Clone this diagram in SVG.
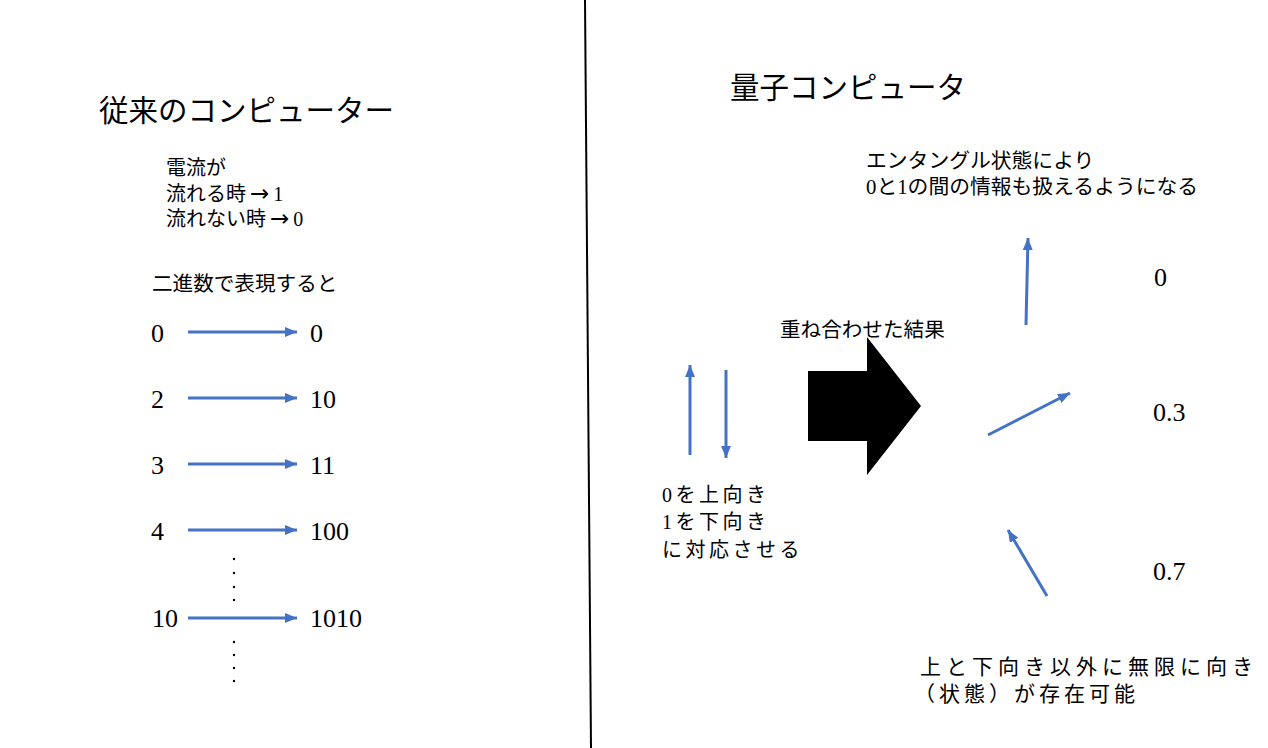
<svg xmlns="http://www.w3.org/2000/svg" width="1268" height="748" viewBox="0 0 1268 748">
<defs>
<style>
text{font-family:"Liberation Serif","Noto Sans CJK JP",serif;fill:#000}
.t28{font-size:29.5px}
.t20{font-size:20px}
.t21{font-size:20.8px}
.t24{font-size:26px}
.ar{font-family:"DejaVu Sans",sans-serif;font-size:23px}
.sp{font-size:20px;letter-spacing:3.5px}
.sp2{font-size:21px;letter-spacing:4px}
.arr{stroke:#4472C4;stroke-width:3;fill:none;marker-end:url(#ah)}
.dot{fill:#000}
</style>
<marker id="ah" markerUnits="userSpaceOnUse" viewBox="0 0 12 10" markerWidth="12" markerHeight="10" refX="12" refY="5" orient="auto">
<path d="M0,0 L12,5 L0,10 z" fill="#4472C4"/>
</marker>
</defs>
<rect width="1268" height="748" fill="#fff"/>
<line id="divider" x1="585" y1="0" x2="591" y2="748" stroke="#000" stroke-width="2"/>

<g id="left-title"><text class="t28" x="99" y="121">従来のコンピューター</text></g>
<g id="current-note">
<text class="t20" x="166" y="175">電流が</text>
<text class="t20" x="166" y="201">流れる時<tspan class="ar" dx="4">→</tspan><tspan dx="4">1</tspan></text>
<text class="t20" x="166" y="226">流れない時<tspan class="ar" dx="4">→</tspan><tspan dx="4">0</tspan></text>
</g>
<g id="binary-label"><text class="t20" x="152" y="291" style="font-size:20.6px">二進数で表現すると</text></g>
<g id="row0"><text class="t24" x="151" y="342">0</text><text class="t24" x="310" y="342">0</text></g>
<g id="row2"><text class="t24" x="151" y="408">2</text><text class="t24" x="310" y="408">10</text></g>
<g id="row3"><text class="t24" x="151" y="474">3</text><text class="t24" x="310" y="474">11</text></g>
<g id="row4"><text class="t24" x="151" y="540">4</text><text class="t24" x="310" y="540">100</text></g>
<g id="row10"><text class="t24" x="152" y="627">10</text><text class="t24" x="310" y="627">1010</text></g>
<g id="dots">
<circle class="dot" cx="234" cy="559" r="1.2"/><circle class="dot" cx="234" cy="573" r="1.2"/><circle class="dot" cx="234" cy="587" r="1.2"/><circle class="dot" cx="234" cy="600" r="1.2"/>
<circle class="dot" cx="234" cy="642" r="1.2"/><circle class="dot" cx="234" cy="655" r="1.2"/><circle class="dot" cx="234" cy="668" r="1.2"/><circle class="dot" cx="234" cy="681" r="1.2"/>
</g>

<g id="right-title"><text class="t28" x="730" y="98">量子コンピュータ</text></g>
<g id="entangle-note">
<text class="t21" x="866" y="168">エンタングル状態により</text>
<text class="t21" x="866" y="194">0と1の間の情報も扱えるようになる</text>
</g>
<g id="updown-note">
<text class="sp" x="662" y="502">0を上向き</text>
<text class="sp" x="662" y="529">1を下向き</text>
<text class="sp" x="662" y="557">に対応させる</text>
</g>
<g id="overlay-label"><text class="t20" x="780" y="337" style="font-size:20.6px">重ね合わせた結果</text></g>
<g id="big-arrow"><path d="M808,371 L867,371 L867,337 L921,406 L867,475 L867,441 L808,441 z" fill="#000"/></g>
<g id="val0"><text class="t24" x="1154" y="286">0</text></g>
<g id="val03"><text class="t24" x="1153" y="421">0.3</text></g>
<g id="val07"><text class="t24" x="1153" y="580">0.7</text></g>
<g id="infinite-note">
<text class="sp2" x="920" y="674" style="letter-spacing:5px">上と下向き以外に無限に向き</text>
<text class="sp2" x="914" y="701">（状態）が存在可能</text>
</g>

<g id="connectors">
<line class="arr" x1="188" y1="332" x2="297" y2="332"/>
<line class="arr" x1="188" y1="398" x2="297" y2="398"/>
<line class="arr" x1="188" y1="464" x2="297" y2="464"/>
<line class="arr" x1="188" y1="530" x2="297" y2="530"/>
<line class="arr" x1="188" y1="618" x2="297" y2="618"/>
<line class="arr" x1="690" y1="455" x2="690" y2="365"/>
<line class="arr" x1="726" y1="370" x2="726" y2="458"/>
<line class="arr" x1="1026" y1="325" x2="1028" y2="238"/>
<line class="arr" x1="988" y1="435" x2="1070" y2="393"/>
<line class="arr" x1="1047" y1="596" x2="1008" y2="530"/>
</g>
</svg>
